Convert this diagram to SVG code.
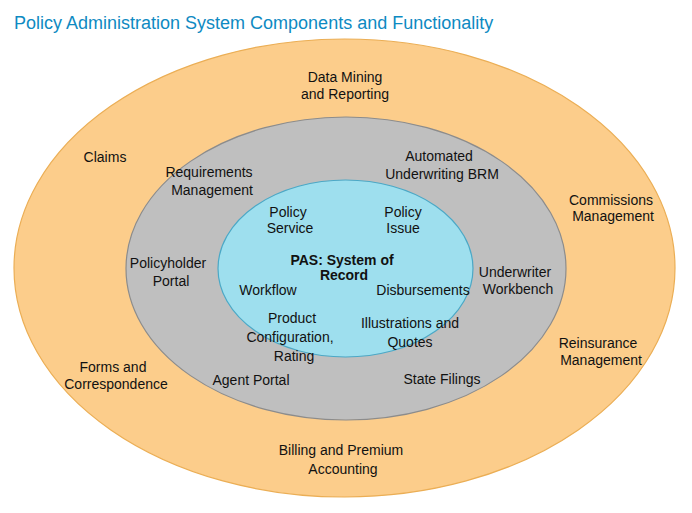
<svg xmlns="http://www.w3.org/2000/svg" width="692" height="513" viewBox="0 0 692 513">
<style>
.t{font-family:"Liberation Sans",Arial,sans-serif;font-size:14px;fill:#111;text-anchor:middle}
.b{font-weight:bold}
.title{font-family:"Liberation Sans",Arial,sans-serif;font-size:18px;fill:#0E8AC2}
</style>
<rect width="692" height="513" fill="#fff"/>
<text class="title" x="14" y="28.5">Policy Administration System Components and Functionality</text>
<g id="outer-ring"><ellipse cx="344.5" cy="268" rx="330.5" ry="229" fill="#FCCD8B" stroke="#EBAE55" stroke-width="1.2"/></g>
<g id="middle-ring"><ellipse cx="346" cy="268.5" rx="220" ry="151.5" fill="#BFBFBF" stroke="#8C8C8C" stroke-width="1.2"/></g>
<g id="core"><ellipse cx="345.5" cy="268.5" rx="127.5" ry="88.5" fill="#9EDFEE" stroke="#4BA8C6" stroke-width="1.2"/></g>

<g id="data-mining"><text class="t" x="345" y="82">Data Mining</text><text class="t" x="345" y="99">and Reporting</text></g>
<g id="claims"><text class="t" x="105" y="162">Claims</text></g>
<g id="commissions"><text class="t" x="611" y="205">Commissions</text><text class="t" x="613" y="221">Management</text></g>
<g id="reinsurance"><text class="t" x="598" y="348">Reinsurance</text><text class="t" x="601" y="365">Management</text></g>
<g id="forms"><text class="t" x="113" y="372">Forms and</text><text class="t" x="116" y="389">Correspondence</text></g>
<g id="billing"><text class="t" x="341" y="455">Billing and Premium</text><text class="t" x="343" y="474">Accounting</text></g>

<g id="requirements"><text class="t" x="209" y="177">Requirements</text><text class="t" x="212" y="195">Management</text></g>
<g id="automated-uw"><text class="t" x="439" y="161">Automated</text><text class="t" x="442" y="179">Underwriting BRM</text></g>
<g id="policyholder-portal"><text class="t" x="168" y="268">Policyholder</text><text class="t" x="171" y="286">Portal</text></g>
<g id="underwriter-workbench"><text class="t" x="515" y="277">Underwriter</text><text class="t" x="518" y="294">Workbench</text></g>
<g id="agent-portal"><text class="t" x="251" y="385">Agent Portal</text></g>
<g id="state-filings"><text class="t" x="442" y="384">State Filings</text></g>

<g id="policy-service"><text class="t" x="288" y="217">Policy</text><text class="t" x="290" y="233">Service</text></g>
<g id="policy-issue"><text class="t" x="403" y="217">Policy</text><text class="t" x="403" y="233">Issue</text></g>
<g id="pas"><text class="t b" x="342" y="265">PAS: System of</text><text class="t b" x="344" y="280">Record</text></g>
<g id="workflow"><text class="t" x="268" y="295">Workflow</text></g>
<g id="disbursements"><text class="t" x="423" y="295">Disbursements</text></g>
<g id="product-config"><text class="t" x="292" y="323">Product</text><text class="t" x="290" y="342">Configuration,</text><text class="t" x="294" y="361">Rating</text></g>
<g id="illustrations"><text class="t" x="410" y="328">Illustrations and</text><text class="t" x="410" y="347">Quotes</text></g>
</svg>
